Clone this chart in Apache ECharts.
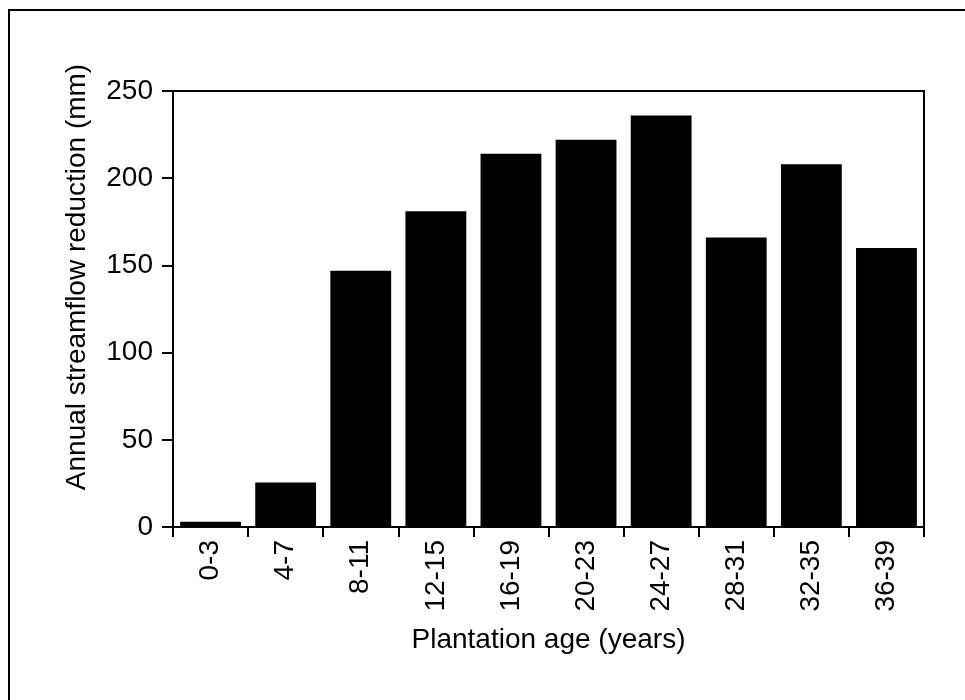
<!DOCTYPE html>
<html>
<head>
<meta charset="utf-8">
<title>Annual streamflow reduction by plantation age</title>
<script src="https://cdn.jsdelivr.net/npm/echarts@6/dist/echarts.min.js"></script>
<style>
  html, body { margin: 0; padding: 0; background: #ffffff; }
  #chart { width: 965px; height: 700px; }
</style>
</head>
<body>
<div id="chart"></div>
<script>
// Plantation age classes (years)
var ageClasses = ['0-3', '4-7', '8-11', '12-15', '16-19', '20-23', '24-27', '28-31', '32-35', '36-39'];
// Annual streamflow reduction (mm) for each age class
var streamflowReduction = [3, 25.5, 147, 181, 214, 222, 236, 166, 208, 160];
// Value axis range
var yMin = 0;
var yMax = 250;
var yStep = 50;

var FONT = '"Liberation Sans", Arial, Helvetica, sans-serif';

var chart = echarts.init(document.getElementById('chart'), null, { renderer: 'canvas' });

chart.setOption({
  backgroundColor: '#ffffff',
  animation: false,
  grid: {
    left: 173,
    top: 91,
    right: 41,
    bottom: 173,
    show: true,
    borderColor: '#000000',
    borderWidth: 2,
    backgroundColor: 'transparent'
  },
  xAxis: {
    type: 'category',
    data: ageClasses,
    name: 'Plantation age (years)',
    nameLocation: 'middle',
    nameGap: 99,
    nameTextStyle: { color: '#000', fontFamily: FONT, fontSize: 28 },
    axisLine: { lineStyle: { color: '#000', width: 2 } },
    axisTick: { show: true, length: 10, lineStyle: { color: '#000', width: 2 } },
    axisLabel: {
      rotate: 90,
      margin: 13,
      color: '#000',
      fontFamily: FONT,
      fontSize: 28,
      interval: 0
    },
    splitLine: { show: false }
  },
  yAxis: {
    type: 'value',
    min: yMin,
    max: yMax,
    interval: yStep,
    axisLine: { show: true, lineStyle: { color: '#000', width: 2 } },
    axisTick: { show: true, length: 11, lineStyle: { color: '#000', width: 2 } },
    axisLabel: {
      margin: 20,
      color: '#000',
      fontFamily: FONT,
      fontSize: 28
    },
    splitLine: { show: false }
  },
  graphic: [
    // figure frame (left and top edges)
    {
      type: 'polyline',
      shape: { points: [[9, 700], [9, 10], [965, 10]] },
      style: { stroke: '#000', lineWidth: 2, fill: null },
      silent: true
    },
    // value axis title
    {
      type: 'text',
      x: 77,
      y: 277,
      rotation: Math.PI / 2,
      style: {
        text: 'Annual streamflow reduction (mm)',
        fill: '#000',
        font: '28px ' + FONT,
        textAlign: 'center',
        textVerticalAlign: 'middle'
      },
      silent: true
    }
  ],
  series: [
    {
      type: 'bar',
      data: streamflowReduction,
      barCategoryGap: '19%',
      itemStyle: { color: '#000000' },
      silent: true
    }
  ]
});
</script>
</body>
</html>
